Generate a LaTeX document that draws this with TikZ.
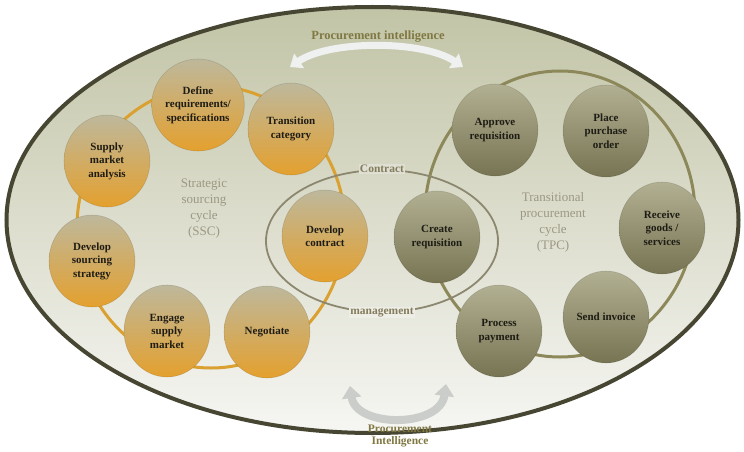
\documentclass[tikz,border=0pt]{standalone}
\usepackage{fontspec}
\setmainfont{Liberation Serif}
\usetikzlibrary{shapes.geometric,arrows.meta}

\definecolor{outerline}{RGB}{70,70,50}
\definecolor{bgtop}{RGB}{194,196,166}
\definecolor{bgmid}{RGB}{230,230,220}
\definecolor{bgbot}{RGB}{246,246,243}
\definecolor{sscring}{RGB}{218,160,48}
\definecolor{tpcring}{RGB}{140,136,90}
\definecolor{cmline}{RGB}{140,136,112}
\definecolor{cmtext}{RGB}{132,124,92}
\definecolor{ssctop}{RGB}{190,184,156}
\definecolor{sscbot}{RGB}{228,160,46}
\definecolor{tpctop}{RGB}{178,176,146}
\definecolor{tpcbot}{RGB}{118,116,82}
\definecolor{nodetext}{RGB}{30,28,20}
\definecolor{cyclelabel}{RGB}{156,152,132}
\definecolor{pilabel}{RGB}{128,120,66}
\definecolor{piarrow}{RGB}{238,241,240}
\definecolor{piarrowlow}{RGB}{202,205,202}

\tikzset{
  stepnode/.style={ellipse, inner sep=0pt, minimum width=86pt, minimum height=92pt,
    align=center, text=nodetext, font=\fontsize{11}{13.5}\selectfont\bfseries,
    draw=black, draw opacity=0.12, line width=0.6pt},
  sscnode/.style={stepnode, top color=ssctop, bottom color=sscbot},
  tpcnode/.style={stepnode, top color=tpctop, bottom color=tpcbot},
  ringshape/.style={ellipse, inner sep=0pt, line width=3pt},
  cyclename/.style={align=center, text=cyclelabel, font=\fontsize{13}{16}\selectfont},
  cmlabel/.style={inner sep=1pt, text=cmtext, font=\fontsize{11.5}{13}\selectfont\bfseries},
  pitext/.style={text=pilabel, align=center, font=\fontsize{11.5}{12}\selectfont\bfseries},
}

\begin{document}
\begin{tikzpicture}[x=1pt, y=-1pt]
\useasboundingbox (0,0) rectangle (744,452);
\fill[white] (0,0) rectangle (744,452);

% outer field
\shade[top color=bgtop, middle color=bgmid, bottom color=bgbot]
  (372.5,220) ellipse [x radius=366pt, y radius=213pt];

% the two cycles and the contract management loop
\node[ringshape, draw=sscring, minimum width=268pt, minimum height=282pt] (sscloop) at (211,227) {};
\node[ringshape, draw=tpcring, minimum width=270pt, minimum height=286pt] (tpcloop) at (560,214) {};
\node[ellipse, inner sep=0pt, draw=cmline, line width=1.8pt, minimum width=232pt, minimum height=142pt] (cmloop) at (382,241) {};

% procurement intelligence arrows
\coordinate (piTopL) at (290,67);
\coordinate (piTopR) at (463,67);
\draw[piarrow, line width=7pt, {Triangle[width=17pt,length=11pt]}-{Triangle[width=17pt,length=11pt]}]
  (piTopL) .. controls (330,40) and (423,40) .. (piTopR);
\coordinate (piLowL) at (350,386);
\coordinate (piLowR) at (446,384);
\draw[piarrowlow, line width=8pt, {Triangle[width=19pt,length=12pt]}-{Triangle[width=19pt,length=12pt]}]
  (piLowL) .. controls (356,428) and (440,428) .. (piLowR);

% strategic sourcing cycle steps
\node[sscnode] (define)   at (198,105) {Define\\requirements/\\specifications};
\node[sscnode] (transcat) at (291,129) {Transition\\category};
\node[sscnode] (supply)   at (107,161) {Supply\\market\\analysis};
\node[sscnode] (strategy) at (92,261)  {Develop\\sourcing\\strategy};
\node[sscnode] (engage)   at (167,331) {Engage\\supply\\market};
\node[sscnode] (negot)    at (267,332) {Negotiate};
\node[sscnode] (contract) at (325,236) {Develop\\contract};

% transitional procurement cycle steps
\node[tpcnode] (create)   at (437,237) {Create\\requisition};
\node[tpcnode] (approve)  at (495,130) {Approve\\requisition};
\node[tpcnode] (order)    at (606,131) {Place\\purchase\\order};
\node[tpcnode] (receive)  at (662,228) {Receive\\goods /\\services};
\node[tpcnode] (invoice)  at (606,317) {Send invoice};
\node[tpcnode] (payment)  at (499,331) {Process\\payment};

% cycle names
\node[cyclename] (sscname) at (204,209) {Strategic\\sourcing\\cycle\\(SSC)};
\node[cyclename] (tpcname) at (553,222) {Transitional\\procurement\\cycle\\(TPC)};

% contract management labels on the loop
\node[cmlabel, fill={rgb,255:red,223;green,224;blue,211}] (cmtop) at (cmloop.north) {Contract};
\node[cmlabel, fill={rgb,255:red,238;green,238;blue,231}] (cmbot) at (cmloop.south) {management};

% outer boundary
\draw[outerline, line width=4pt] (372.5,220) ellipse [x radius=366pt, y radius=213pt];

% procurement intelligence labels
\node[pitext, font=\fontsize{12.5}{14}\selectfont\bfseries] (pitop) at (378,37) {Procurement intelligence};
\node[pitext] (pibot) at (400,436) {Procurement\\Intelligence};
\end{tikzpicture}
\end{document}
